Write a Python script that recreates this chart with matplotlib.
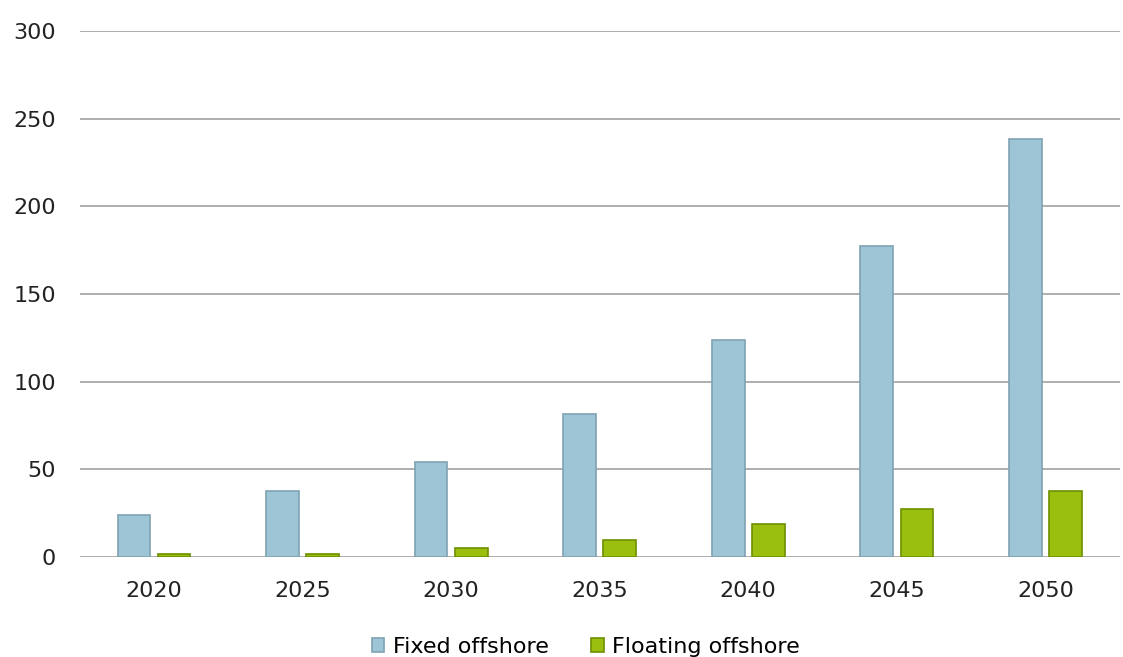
import matplotlib.pyplot as plt
import numpy as np

years = ['2020', '2025', '2030', '2035', '2040', '2045', '2050']
fixed = [24, 37.5, 54, 81.5, 124, 177.5, 238.5]
floating = [2, 1.8, 5, 10, 19, 27.4, 37.6]

fig = plt.figure(figsize=(11.23, 6.57), dpi=100)
ax = fig.add_axes([0.071, 0.152, 0.926, 0.801])

x = np.arange(len(years))
w = 0.22
ax.bar(x - 0.135, fixed, w, color='#9ec5d5', edgecolor='#7fa3b2', linewidth=1.2,
       label='Fixed offshore', zorder=3)
ax.bar(x + 0.135, floating, w, color='#9bbf0e', edgecolor='#6e8f00', linewidth=1.2,
       label='Floating offshore', zorder=3)

ax.set_ylim(0, 300)
ax.set_xlim(-0.5, len(years) - 0.5)
ax.set_yticks(range(0, 301, 50))
ax.set_xticks(x)
ax.set_xticklabels(years)
ax.yaxis.grid(True, color='#a8a8a8', linewidth=1.3, zorder=0)
for s in ax.spines.values():
    s.set_visible(False)
ax.tick_params(axis='both', length=0, labelsize=16, colors='#222222')
ax.tick_params(axis='y', pad=17)
ax.tick_params(axis='x', pad=17)

fig.legend(loc='lower center', bbox_to_anchor=(0.522, -0.03), ncol=2, frameon=False,
           fontsize=16, handlelength=0.55, handleheight=0.55, handletextpad=0.4,
           columnspacing=1.9)

fig.savefig('out.png')
